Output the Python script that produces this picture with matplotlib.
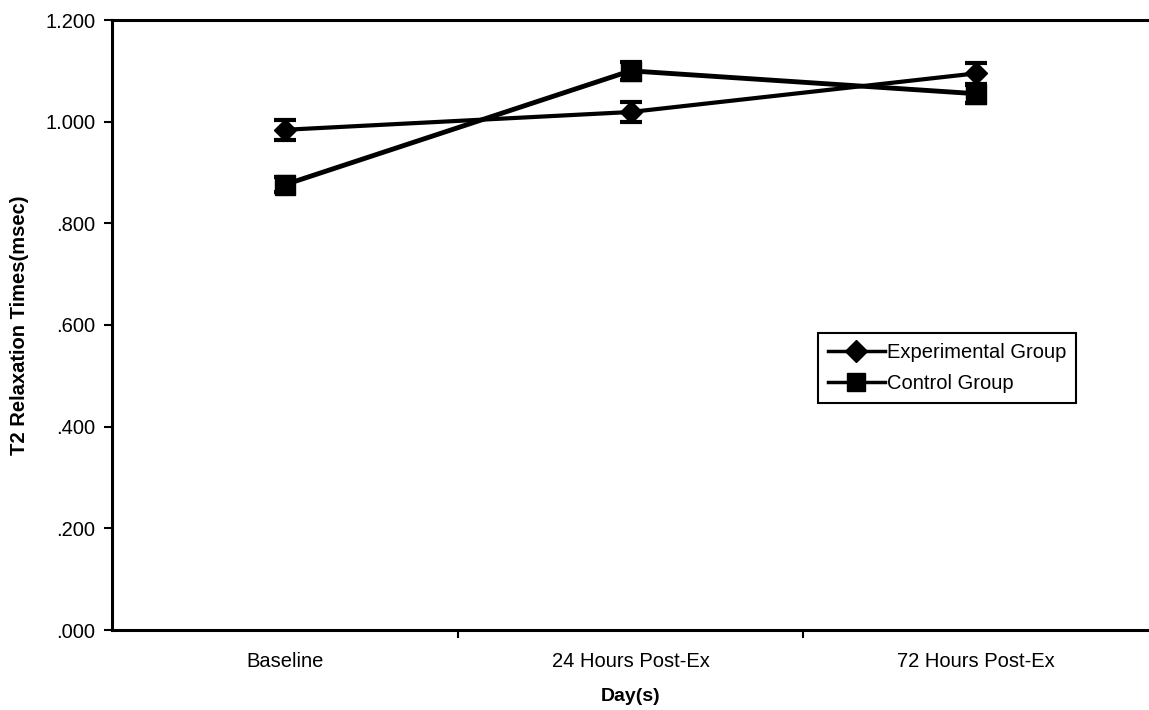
import matplotlib
matplotlib.use("Agg")
import matplotlib.pyplot as plt
from matplotlib.lines import Line2D
import numpy as np

# datos
dias = ['Baseline', '24 Hours Post-Ex', '72 Hours Post-Ex']
experimental = [0.984, 1.019, 1.095]
control = [0.876, 1.100, 1.055]
err_exp = [0.020, 0.020, 0.020]
err_ctrl = [0.015, 0.018, 0.018]
yticks = [0.0, 0.2, 0.4, 0.6, 0.8, 1.0, 1.2]
ylabels = ['.000', '.200', '.400', '.600', '.800', '1.000', '1.200']

plt.rcParams['font.family'] = ['Liberation Sans', 'DejaVu Sans']

x = np.arange(len(dias))

fig = plt.figure(figsize=(11.49, 7.10), dpi=100)
ax = fig.add_axes([112/1149, 80/710, 1 - 112/1149, 610/710])

ax.errorbar(x, experimental, yerr=err_exp, color='black', lw=3, marker='D',
            markersize=11, capsize=8, capthick=3, elinewidth=2.5)
ax.errorbar(x, control, yerr=err_ctrl, color='black', lw=3.5, marker='s',
            markersize=14, capsize=8, capthick=3, elinewidth=2.5)

ax.set_xlim(-0.5, len(dias) - 0.5)
ax.set_ylim(0, 1.2)
ax.set_yticks(yticks)
ax.set_yticklabels(ylabels)
ax.set_xticks(x)
ax.set_xticklabels(dias)
ax.set_xticks(x[:-1] + 0.5, minor=True)
ax.tick_params(axis='x', which='major', length=0, pad=16, labelsize=14.5)
ax.tick_params(axis='x', which='minor', length=6, width=1.5, direction='out')
ax.tick_params(axis='y', length=6, width=1.5, direction='out', pad=6, labelsize=14.5)

for s in ['left', 'bottom', 'top']:
    ax.spines[s].set_linewidth(2.2)
ax.spines['right'].set_visible(False)

ax.set_xlabel('Day(s)', fontsize=14, fontweight='bold', labelpad=12)
ax.set_ylabel('T2 Relaxation Times(msec)', fontsize=14.5, fontweight='bold', labelpad=12)

handles = [Line2D([], [], color='black', lw=2.5, marker='D', markersize=11),
           Line2D([], [], color='black', lw=2.5, marker='s', markersize=13)]
leg = ax.legend(handles, ['Experimental Group', 'Control Group'],
                loc='upper left', bbox_to_anchor=(0.681, 0.487), borderaxespad=0,
                fancybox=False, framealpha=1, edgecolor='black', fontsize=14.5,
                handlelength=2.8, handletextpad=0.1, borderpad=0.5, labelspacing=0.6)
leg.get_frame().set_linewidth(1.5)

fig.savefig('out.png', dpi=100)
